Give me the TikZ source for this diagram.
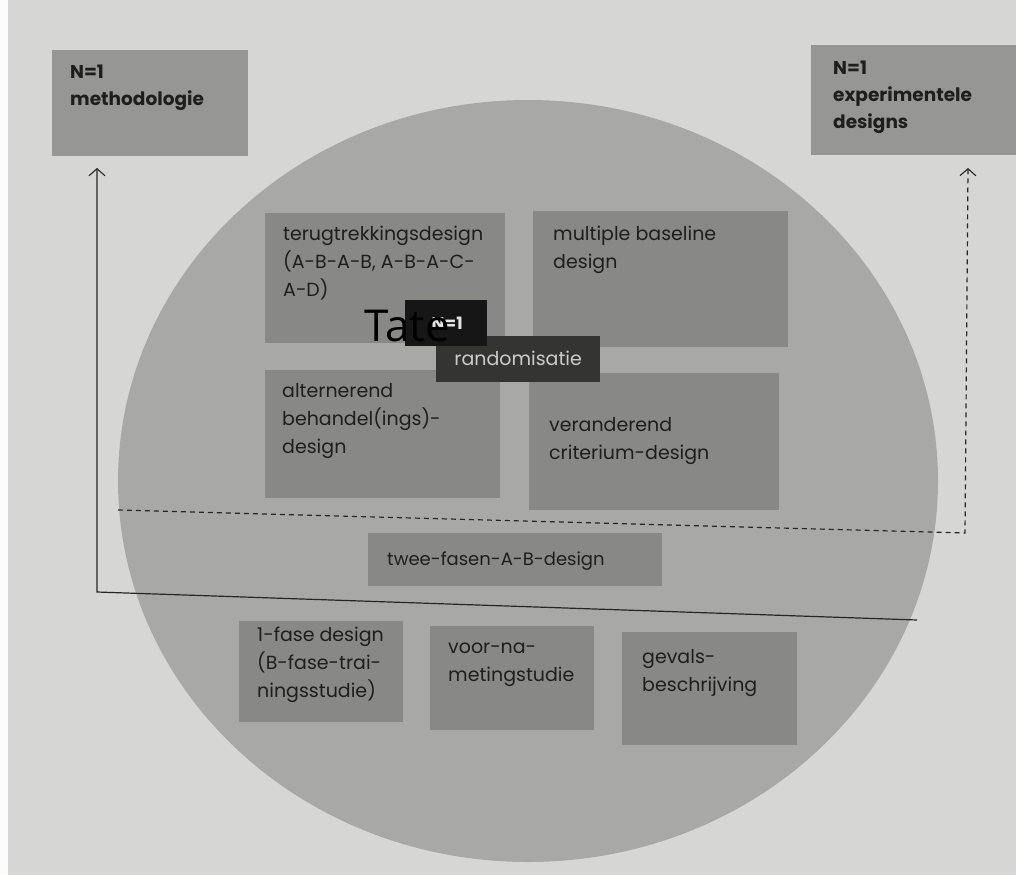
\documentclass[tikz,border=0pt]{standalone}
\usepackage{fontspec}
\setmainfont{Poppins}
\newfontfamily\tatefont{Open Sans}
\usetikzlibrary{arrows.meta}
\definecolor{page}{RGB}{214,214,212}
\definecolor{disc}{RGB}{168,168,166}
\definecolor{inbox}{RGB}{136,136,134}
\definecolor{topbox}{RGB}{150,150,148}
\definecolor{darkbox}{RGB}{22,22,22}
\definecolor{randbox}{RGB}{52,52,50}
\definecolor{ink}{RGB}{30,30,30}
\tikzset{
  box/.style={fill=#1, draw=none, anchor=north west, inner sep=0pt},
  txt/.style={anchor=base west, align=left, text=ink, font=\fontsize{19}{28}\selectfont, inner sep=0pt},
  headtxt/.style={anchor=base west, align=left, text=ink, font=\bfseries\fontsize{18.5}{27}\selectfont, inner sep=0pt},
  link/.style={draw=black!85, line width=1.2pt, -{Straight Barb[length=7pt,width=16pt,line width=1.1pt]}},
  dlink/.style={link, dash pattern=on 5pt off 4pt}
}
\begin{document}
\begin{tikzpicture}[x=1pt,y=-1pt]
\useasboundingbox (0,0) rectangle (1016,875);
\fill[page] (0,0) rectangle (1016,875);
\fill[white!92!page] (0,0) rectangle (8,875);
% disc
\fill[disc] (528,481) ellipse [x radius=410, y radius=381];
% top boxes
\node[box=topbox, minimum width=196pt, minimum height=106pt] (meth) at (52,50) {};
\node[headtxt] (methT) at ([shift={(18,55)}]meth.north west) {N=1\\methodologie};
\node[box=topbox, minimum width=210pt, minimum height=110pt] (exp) at (811,45) {};
\node[headtxt] (expT) at ([shift={(22,83)}]exp.north west) {N=1\\experimentele\\designs};
% inner boxes
\node[box=inbox, minimum width=240pt, minimum height=130pt] (terug) at (265,213) {};
\node[txt] (terugT) at ([shift={(18,83)}]terug.north west) {terugtrekkingsdesign\\(A-B-A-B, A-B-A-C-\\A-D)};
\node[box=inbox, minimum width=255pt, minimum height=136pt] (mult) at (533,211) {};
\node[txt] (multT) at ([shift={(20,57)}]mult.north west) {multiple baseline\\design};
\node[box=inbox, minimum width=235pt, minimum height=128pt] (alt) at (265,370) {};
\node[txt] (altT) at ([shift={(17,83)}]alt.north west) {alternerend\\behandel(ings)-\\design};
\node[box=inbox, minimum width=250pt, minimum height=137pt] (ver) at (529,373) {};
\node[txt] (verT) at ([shift={(20,86)}]ver.north west) {veranderend\\criterium-design};
% dark boxes
\node[box=randbox, minimum width=164pt, minimum height=46pt] (rand) at (436,336) {};
\node[text=white!80!black, font=\fontsize{19}{20}\selectfont, inner sep=0pt] (randT) at ([yshift=1pt]rand.center) {randomisatie};
\node[box=darkbox, minimum width=82pt, minimum height=46pt] (n1) at (405,300) {};
\node[text=white!90!black, font=\bfseries\fontsize{17}{18}\selectfont, inner sep=0pt] (n1T) at ([xshift=1pt]n1.center) {N=1};
\node[font=\tatefont\fontsize{44}{48}\selectfont, text=black, inner sep=0pt, anchor=west] (tate) at (364,326) {Tate};
% twee-fasen
\node[box=inbox, minimum width=294pt, minimum height=53pt] (twee) at (368,533) {};
\node[txt, anchor=west, font=\fontsize{18}{20}\selectfont] (tweeT) at ([xshift=19pt,yshift=-1pt]twee.west) {twee-fasen-A-B-design};
% bottom boxes
\node[box=inbox, minimum width=164pt, minimum height=101pt] (fase) at (239,621) {};
\node[txt] (faseT) at ([shift={(18,76)}]fase.north west) {1-fase design\\(B-fase-trai-\\ningsstudie)};
\node[box=inbox, minimum width=164pt, minimum height=104pt] (voor) at (430,626) {};
\node[txt] (voorT) at ([shift={(18,55)}]voor.north west) {voor-na-\\metingstudie};
\node[box=inbox, minimum width=175pt, minimum height=113pt] (gev) at (622,632) {};
\node[txt] (gevT) at ([shift={(20,59)}]gev.north west) {gevals-\\beschrijving};
% connectors
\coordinate (s0) at (917,620);
\coordinate (s1) at (97,592);
\coordinate (s2) at (97,168);
\draw[link] (s0) -- (s1) -- (s2);
\coordinate (d0) at (118,510);
\coordinate (d1) at (965,533);
\coordinate (d2) at (968,168);
\draw[dlink] (d0) -- (d1) -- (d2);
\end{tikzpicture}
\end{document}
